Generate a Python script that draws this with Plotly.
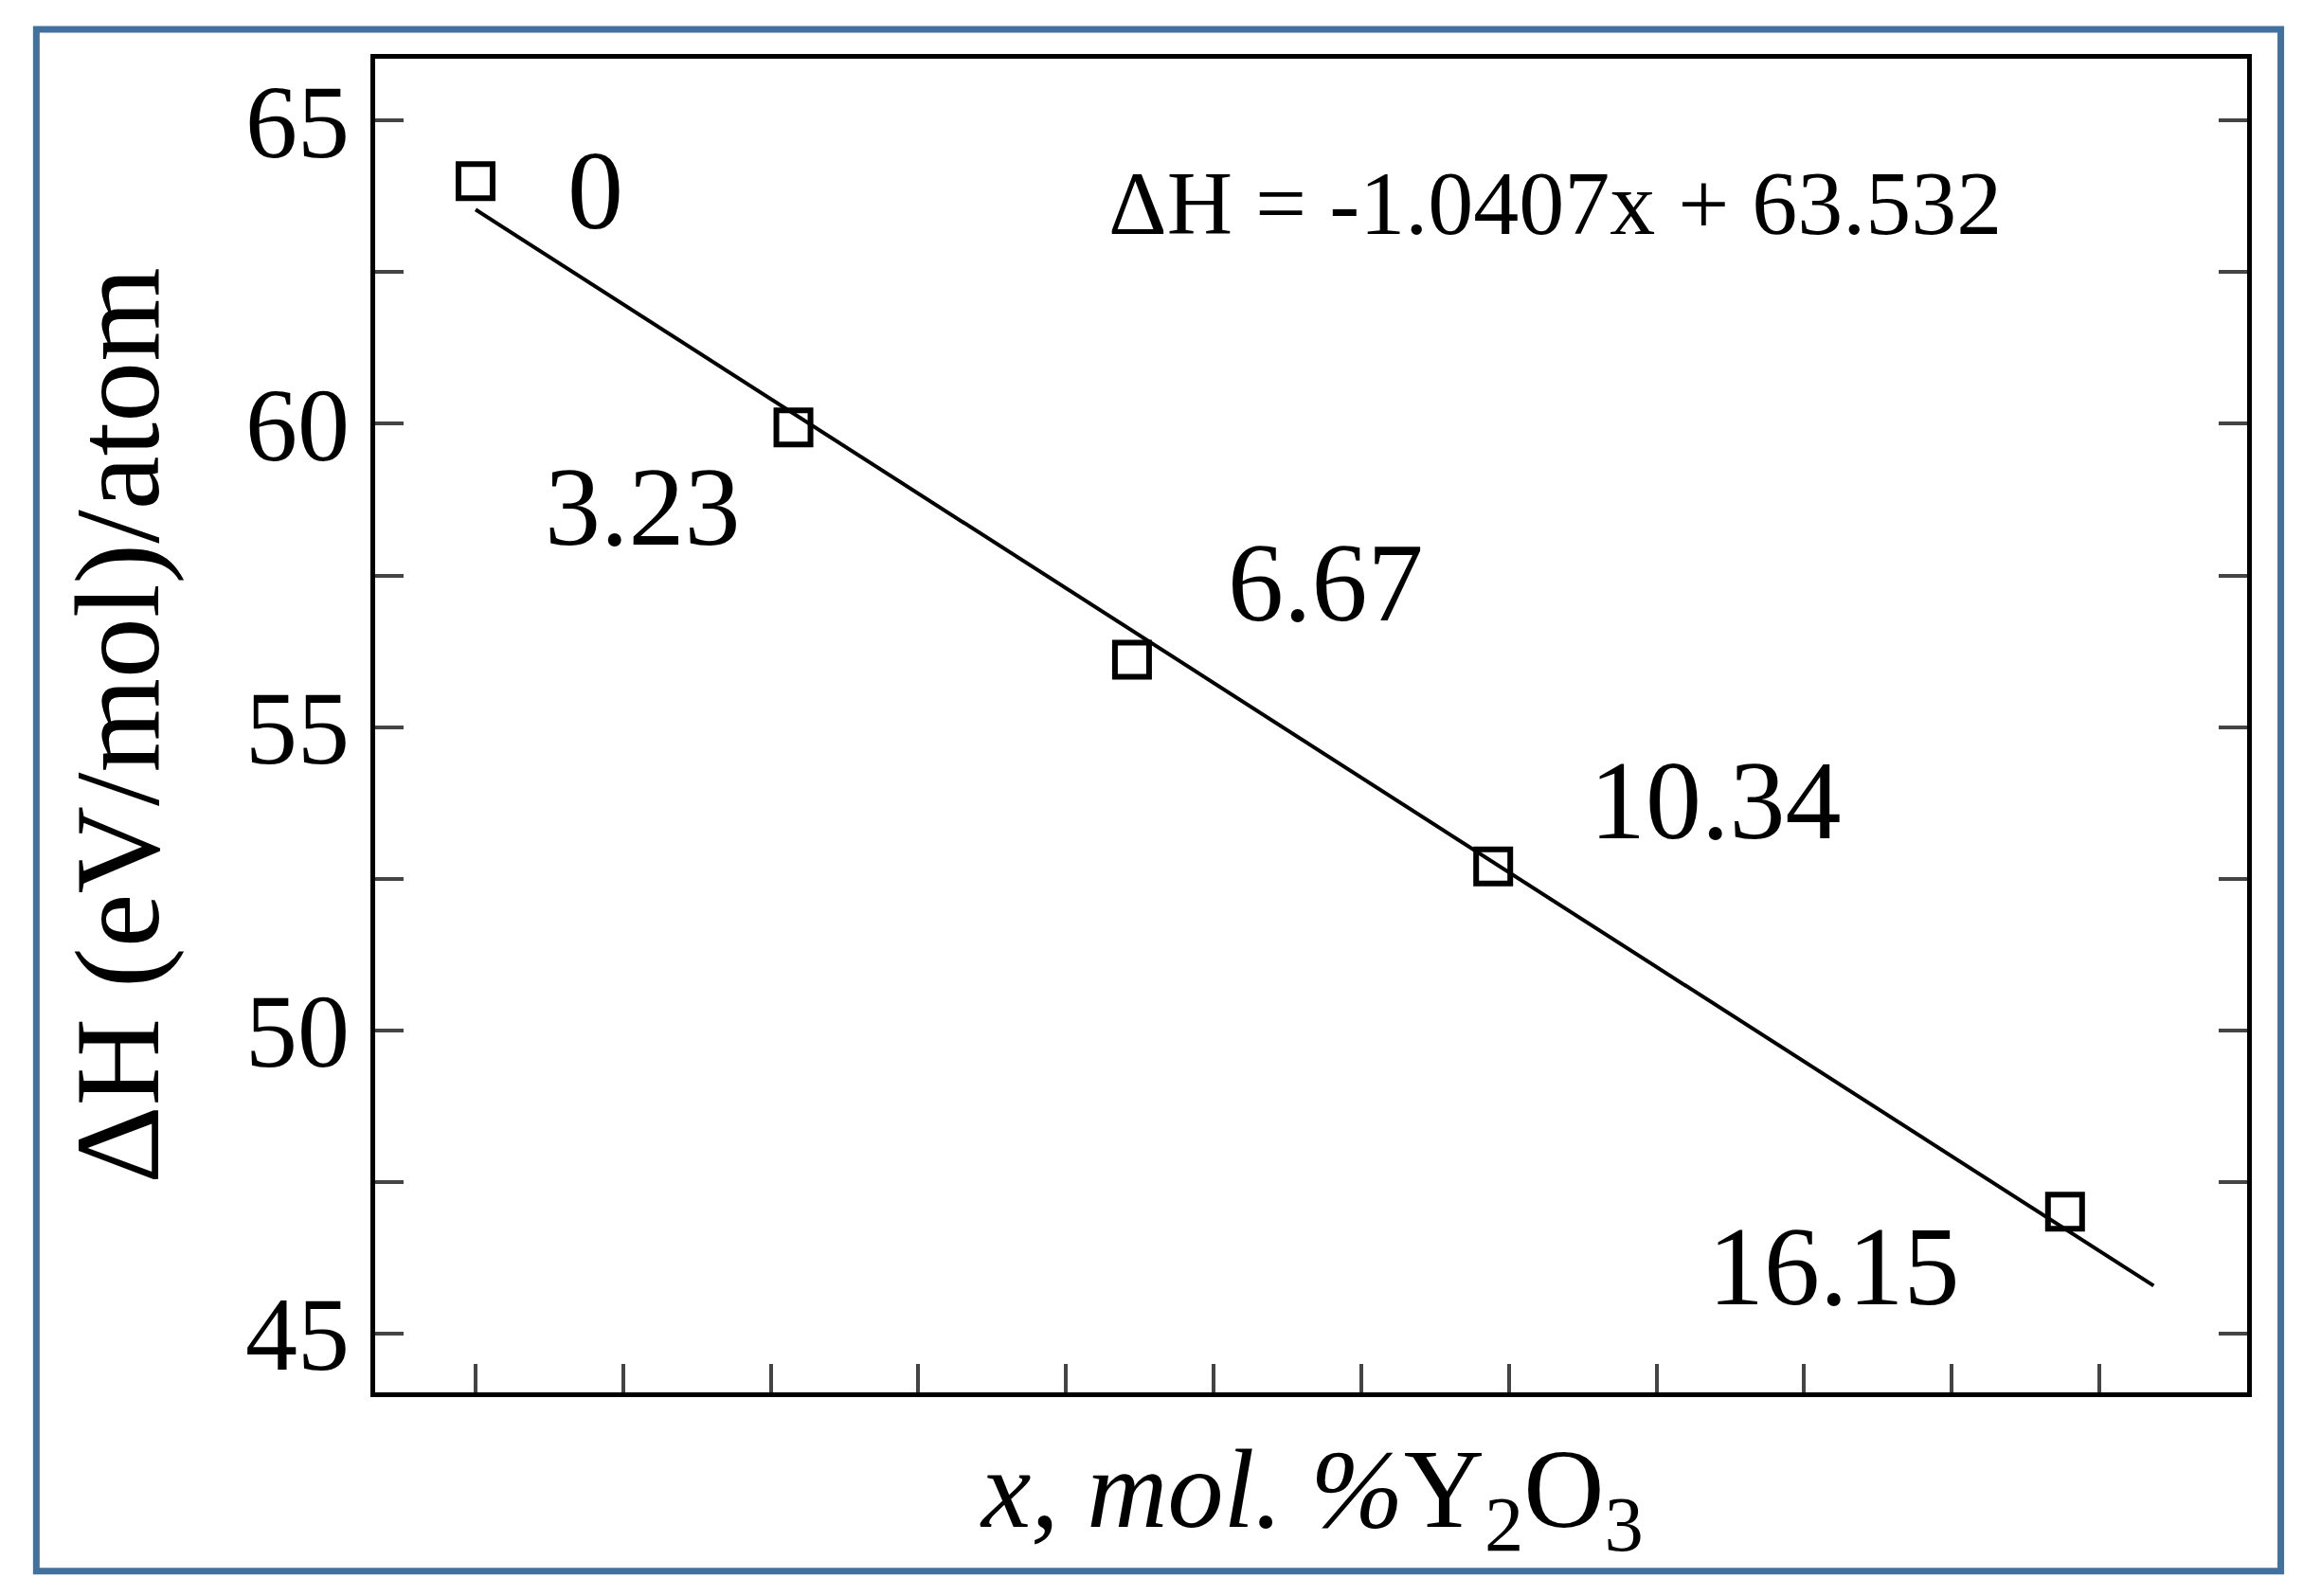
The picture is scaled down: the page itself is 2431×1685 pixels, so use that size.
import plotly.graph_objects as go

x_vals = [0, 3.23, 6.67, 10.34, 16.15]
y_vals = [64.0, 59.94, 56.11, 52.70, 47.01]
labels = ["0", "3.23", "6.67", "10.34", "16.15"]
label_x = [1.22, 1.7, 8.64, 12.6, 13.8]
label_y = [63.84, 58.63, 57.37, 53.79, 46.1]
slope, intercept = -1.0407, 63.532
fit_x = [0, 17.05]
fit_y = [slope * v + intercept for v in fit_x]

F = "Liberation Serif"
fig = go.Figure()
fig.add_trace(go.Scatter(x=fit_x, y=fit_y, mode="lines", line=dict(color="black", width=4), showlegend=False))
fig.add_trace(go.Scatter(x=x_vals, y=y_vals, mode="markers", showlegend=False,
                         marker=dict(symbol="square-open", size=36, color="black", line=dict(width=6))))
for lx, ly, t in zip(label_x, label_y, labels):
    fig.add_annotation(x=lx, y=ly, text=t, showarrow=False, font=dict(family=F, size=118, color="black"))
fig.add_annotation(x=10.97, y=63.64, text="ΔH = -1.0407x + 63.532", showarrow=False,
                   font=dict(family=F, size=96, color="black"))
fig.add_annotation(xref="paper", yref="paper", x=0.5, y=-0.079, yanchor="middle",
                   text="<i>x, mol. %</i>Y<sub>2</sub>O<sub>3</sub>", showarrow=False,
                   font=dict(family=F, size=118, color="black"))
fig.add_shape(type="rect", xref="paper", yref="paper", x0=-0.181, x1=1.018, y0=-0.134, y1=1.022,
              line=dict(color="#41719C", width=7))
fig.update_layout(
    width=2431, height=1685, margin=dict(l=388, r=67, t=54, b=223),
    plot_bgcolor="white", paper_bgcolor="white",
    xaxis=dict(range=[-1.02, 18.0], tick0=0, dtick=1.5, ticks="inside", ticklen=30, tickwidth=4,
               showticklabels=False, showgrid=False, zeroline=False, showline=True, linewidth=5,
               linecolor="black", mirror=True),
    yaxis=dict(range=[44.03, 66.02], tick0=45, dtick=5, ticks="inside", ticklen=30, tickwidth=4,
               minor=dict(dtick=2.5, tick0=45, ticks="inside", ticklen=30, tickwidth=4, showgrid=False),
               tickfont=dict(family=F, size=110, color="black"), showgrid=False, zeroline=False,
               showline=True, linewidth=5, linecolor="black", mirror="ticks",
               title=dict(text="ΔH (eV/mol)/atom", font=dict(family=F, size=128, color="black"), standoff=50)),
)
fig.write_html("out.html")
